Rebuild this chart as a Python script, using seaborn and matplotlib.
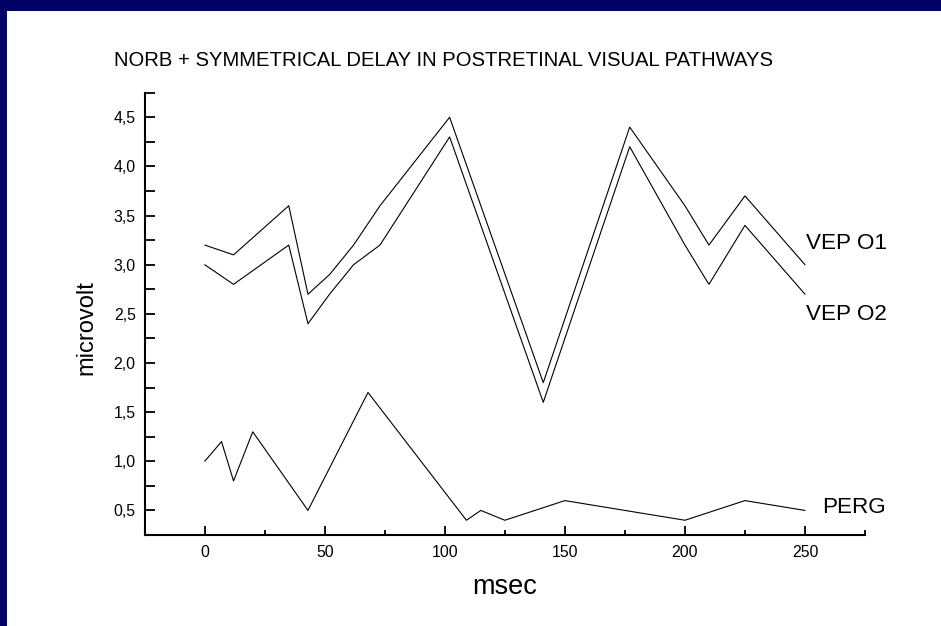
import matplotlib
matplotlib.use("Agg")
import matplotlib.pyplot as plt
from matplotlib.ticker import MultipleLocator, FuncFormatter
from matplotlib.patches import Rectangle
import pandas as pd
import seaborn as sns

# Visual evoked potentials (two occipital leads) and pattern ERG
msec_vep = [0, 12, 35, 43, 52, 62, 73, 102, 141, 177, 200, 210, 225, 250]
vep_o1 = [3.2, 3.1, 3.6, 2.7, 2.9, 3.2, 3.6, 4.5, 1.8, 4.4, 3.6, 3.2, 3.7, 3.0]
vep_o2 = [3.0, 2.8, 3.2, 2.4, 2.7, 3.0, 3.2, 4.3, 1.6, 4.2, 3.2, 2.8, 3.4, 2.7]
msec_perg = [0, 7, 12, 20, 43, 68, 109, 115, 125, 150, 200, 225, 250]
perg = [1.0, 1.2, 0.8, 1.3, 0.5, 1.7, 0.4, 0.5, 0.4, 0.6, 0.4, 0.6, 0.5]

series_names = ["VEP O1", "VEP O2", "PERG"]
title_text = "NORB + SYMMETRICAL DELAY IN POSTRETINAL VISUAL PATHWAYS"

frames = [
    pd.DataFrame({"msec": msec_vep, "microvolt": vep_o1, "series": series_names[0]}),
    pd.DataFrame({"msec": msec_vep, "microvolt": vep_o2, "series": series_names[1]}),
    pd.DataFrame({"msec": msec_perg, "microvolt": perg, "series": series_names[2]}),
]
df = pd.concat(frames, ignore_index=True)

sns.set_style("white")
plt.rcParams["font.family"] = ["Liberation Sans", "DejaVu Sans"]
plt.rcParams["text.color"] = "black"

W, H = 941, 626
fig = plt.figure(figsize=(W / 100, H / 100), dpi=100)
fig.patch.set_facecolor("white")

# navy frame along the top and left edges
fig.add_artist(Rectangle((0, 1 - 11 / H), 1, 11 / H, transform=fig.transFigure,
                         color="#000066", lw=0, zorder=0))
fig.add_artist(Rectangle((0, 0), 7 / W, 1, transform=fig.transFigure,
                         color="#000066", lw=0, zorder=0))

ax = fig.add_axes([144.7 / W, 1 - 535 / H, (865 - 144.7) / W, (535 - 92.7) / H])

sns.lineplot(data=df, x="msec", y="microvolt", hue="series", units="series",
             estimator=None, sort=False,
             palette={n: "black" for n in series_names},
             linewidth=0.8, legend=False, ax=ax)

ax.set_xlim(-25, 275)
ax.set_ylim(0.25, 4.75)
ax.xaxis.set_major_locator(MultipleLocator(50))
ax.xaxis.set_minor_locator(MultipleLocator(25))
ax.yaxis.set_major_locator(MultipleLocator(0.5))
ax.yaxis.set_minor_locator(MultipleLocator(0.25))
ax.yaxis.set_major_formatter(FuncFormatter(lambda v, p: f"{v:.1f}".replace(".", ",")))
ax.xaxis.set_major_formatter(FuncFormatter(lambda v, p: f"{v:.0f}"))

for s in ["top", "right"]:
    ax.spines[s].set_visible(False)
for s in ["left", "bottom"]:
    ax.spines[s].set_linewidth(1.5)
    ax.spines[s].set_color("black")

ax.tick_params(axis="x", which="both", bottom=True, top=False, direction="in",
               width=1.3, color="black")
ax.tick_params(axis="x", which="major", length=6.5, labelsize=11.4, pad=7.2,
               labelcolor="black")
ax.tick_params(axis="x", which="minor", length=3.6)
ax.tick_params(axis="y", which="both", left=True, right=False, direction="in",
               length=7.2, width=1.3, color="black")
ax.tick_params(axis="y", which="major", labelsize=11.4, pad=6.5, labelcolor="black")

ax.set_xlabel("")
ax.set_ylabel("")

fig.text(114 / W, 1 - 65.7 / H, title_text, ha="left", va="baseline", fontsize=14.6)
fig.text(505 / W, 1 - 594 / H, "msec", ha="center", va="baseline", fontsize=19.5)
fig.text(92 / W, 1 - 327.5 / H, "microvolt", ha="center", va="baseline",
         rotation=90, rotation_mode="anchor", fontsize=17)

ax.text(250.5, 3.16, series_names[0], ha="left", va="baseline", fontsize=16.2)
ax.text(250.5, 2.44, series_names[1], ha="left", va="baseline", fontsize=16.2)
ax.text(257, 0.475, series_names[2], ha="left", va="baseline", fontsize=16.2)

fig.savefig("out.png", dpi=100, facecolor="white")
